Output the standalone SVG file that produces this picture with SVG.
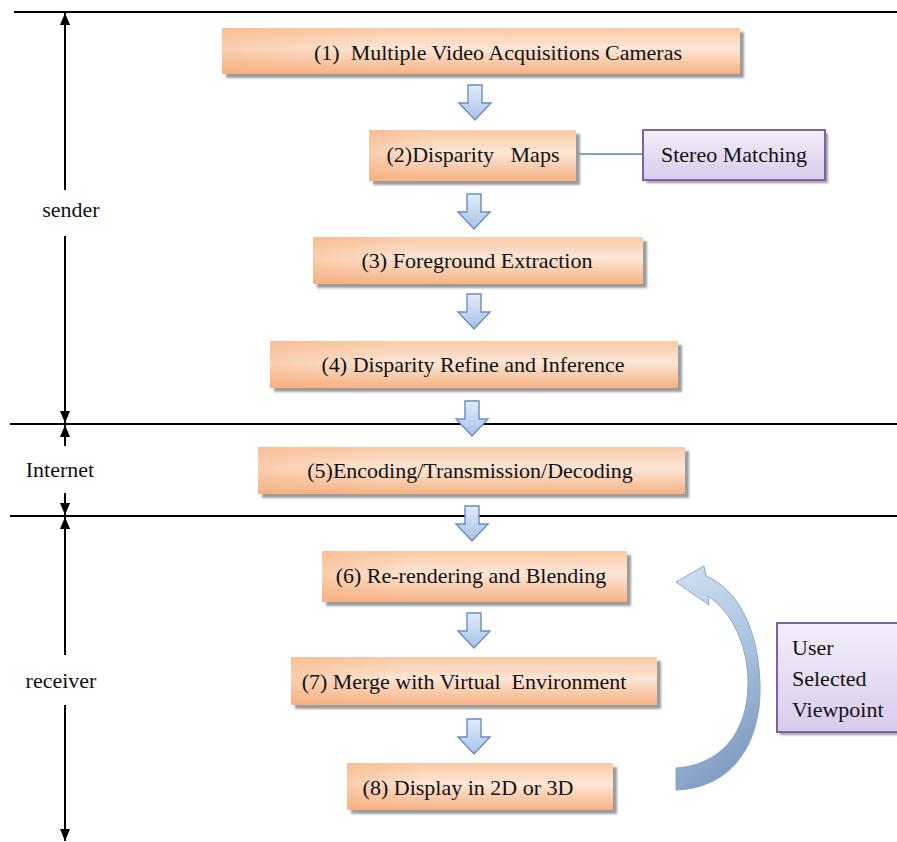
<svg xmlns="http://www.w3.org/2000/svg" width="897" height="842" viewBox="0 0 897 842">
  <defs>
    <linearGradient id="orange" x1="0" y1="0" x2="0" y2="1">
      <stop offset="0" stop-color="#f9caa6"/>
      <stop offset="0.45" stop-color="#fde6d6"/>
      <stop offset="1" stop-color="#f5b283"/>
    </linearGradient>
    <linearGradient id="orangeSide" x1="0" y1="0" x2="1" y2="0">
      <stop offset="0" stop-color="#f6b07e" stop-opacity="0.45"/>
      <stop offset="0.3" stop-color="#f6b07e" stop-opacity="0"/>
      <stop offset="1" stop-color="#f6b07e" stop-opacity="0"/>
    </linearGradient>
    <linearGradient id="purple" x1="0" y1="0" x2="0" y2="1">
      <stop offset="0" stop-color="#f3effa"/>
      <stop offset="1" stop-color="#d8cbec"/>
    </linearGradient>
    <linearGradient id="blueDown" x1="0" y1="0" x2="0" y2="1">
      <stop offset="0" stop-color="#e2ecf9"/>
      <stop offset="1" stop-color="#a6c1e8"/>
    </linearGradient>
    <linearGradient id="curve" x1="0" y1="0" x2="0.3" y2="1">
      <stop offset="0" stop-color="#d2e0f1"/>
      <stop offset="0.55" stop-color="#abc3df"/>
      <stop offset="1" stop-color="#809ec3"/>
    </linearGradient>
    <filter id="soft" x="-10%" y="-30%" width="120%" height="160%">
      <feGaussianBlur stdDeviation="1.2"/>
    </filter>
    <marker id="head" viewBox="0 0 12 10" refX="12" refY="5" markerWidth="12" markerHeight="10" markerUnits="userSpaceOnUse" orient="auto-start-reverse">
      <path d="M0,0 L12,5 L0,10 z" fill="#000"/>
    </marker>
    <path id="blockArrow" d="M-7,0 H7 V18 H16 L0,35 L-16,18 H-7 Z"/>
  </defs>
  <style>
    .box { fill: url(#orange); }
    .side { fill: url(#orangeSide); }
    .shadow { fill: #9c9c9c; filter: url(#soft); }
    .pbox { fill: url(#purple); stroke: #7d62a0; stroke-width: 2; }
    .lbl { font-family: "Liberation Serif", "Times New Roman", serif; font-size: 22px; fill: #111; }
    .mid { text-anchor: middle; }
    .rule { stroke: #000; stroke-width: 2; }
    .vax { stroke: #000; stroke-width: 2; fill: none; }
    .down { fill: url(#blueDown); stroke: #6a8cc4; stroke-width: 1.4; }
  </style>

  <!-- section boundaries -->
  <g id="rules">
    <line class="rule" x1="14" y1="12" x2="897" y2="12"/>
    <line class="rule" x1="10" y1="424" x2="897" y2="424"/>
    <line class="rule" x1="10" y1="516" x2="897" y2="516"/>
  </g>

  <!-- extent arrows and section names -->
  <g id="extents">
    <line class="vax" x1="65" y1="190" x2="65" y2="13" marker-end="url(#head)"/>
    <line class="vax" x1="65" y1="236" x2="65" y2="423" marker-end="url(#head)"/>
    <line class="vax" x1="65" y1="446" x2="65" y2="425" marker-end="url(#head)"/>
    <line class="vax" x1="65" y1="493" x2="65" y2="515" marker-end="url(#head)"/>
    <line class="vax" x1="65" y1="655" x2="65" y2="517" marker-end="url(#head)"/>
    <line class="vax" x1="65" y1="705" x2="65" y2="841" marker-end="url(#head)"/>
    <text class="lbl" x="71" y="217" text-anchor="middle">sender</text>
    <text class="lbl" x="60" y="477" text-anchor="middle">Internet</text>
    <text class="lbl" x="61" y="688" text-anchor="middle">receiver</text>
  </g>

  <!-- flow connectors -->
  <g id="connectors">
    <use href="#blockArrow" class="down" x="475" y="85"/>
    <use href="#blockArrow" class="down" x="474" y="194"/>
    <use href="#blockArrow" class="down" x="474" y="294"/>
    <use href="#blockArrow" class="down" x="472" y="401"/>
    <use href="#blockArrow" class="down" x="472" y="506"/>
    <use href="#blockArrow" class="down" x="474" y="613"/>
    <use href="#blockArrow" class="down" x="474" y="719"/>
    <line x1="577" y1="154" x2="643" y2="154" stroke="#4f81bd" stroke-width="1.6"/>
    <path d="M676,790 C735,788 762,740 760,683 C758,628 738,590 706,576 L704,566 L676,582 L709,605 L708,596 C732,612 748,645 748,683 C748,733 720,765 676,768 Z" fill="url(#curve)" stroke="#8ba6c8" stroke-width="1"/>
  </g>

  <g id="n1">
    <rect class="shadow" x="226" y="32" width="518" height="46"/>
    <rect class="box" x="222" y="28" width="518" height="46"/>
    <rect class="side" x="222" y="28" width="518" height="46"/>
    <text class="lbl mid" x="498" y="60" xml:space="preserve">(1)  Multiple Video Acquisitions Cameras</text>
  </g>
  <g id="n2">
    <rect class="shadow" x="373" y="134" width="207" height="51"/>
    <rect class="box" x="369" y="130" width="207" height="51"/>
    <rect class="side" x="369" y="130" width="207" height="51"/>
    <text class="lbl mid" x="473" y="162" xml:space="preserve">(2)Disparity   Maps</text>
  </g>
  <g id="stereo">
    <rect class="shadow" x="646" y="133" width="182" height="50"/>
    <rect class="pbox" x="643" y="130" width="182" height="50"/>
    <text class="lbl mid" x="734" y="162">Stereo Matching</text>
  </g>
  <g id="n3">
    <rect class="shadow" x="317" y="241" width="330" height="47"/>
    <rect class="box" x="313" y="237" width="330" height="47"/>
    <rect class="side" x="313" y="237" width="330" height="47"/>
    <text class="lbl mid" x="477" y="268">(3) Foreground Extraction</text>
  </g>
  <g id="n4">
    <rect class="shadow" x="274" y="345" width="408" height="47"/>
    <rect class="box" x="270" y="341" width="408" height="47"/>
    <rect class="side" x="270" y="341" width="408" height="47"/>
    <text class="lbl mid" x="473" y="372">(4) Disparity Refine and Inference</text>
  </g>
  <g id="n5">
    <rect class="shadow" x="262" y="451" width="427" height="47"/>
    <rect class="box" x="258" y="447" width="427" height="47"/>
    <rect class="side" x="258" y="447" width="427" height="47"/>
    <text class="lbl mid" x="470" y="478">(5)Encoding/Transmission/Decoding</text>
  </g>
  <g id="n6">
    <rect class="shadow" x="326" y="555" width="305" height="51"/>
    <rect class="box" x="322" y="551" width="305" height="51"/>
    <rect class="side" x="322" y="551" width="305" height="51"/>
    <text class="lbl mid" x="471" y="583">(6) Re-rendering and Blending</text>
  </g>
  <g id="n7">
    <rect class="shadow" x="295" y="661" width="366" height="48"/>
    <rect class="box" x="291" y="657" width="366" height="48"/>
    <rect class="side" x="291" y="657" width="366" height="48"/>
    <text class="lbl mid" x="464" y="689" xml:space="preserve">(7) Merge with Virtual  Environment</text>
  </g>
  <g id="n8">
    <rect class="shadow" x="351" y="767" width="266" height="47"/>
    <rect class="box" x="347" y="763" width="266" height="47"/>
    <rect class="side" x="347" y="763" width="266" height="47"/>
    <text class="lbl mid" x="468" y="795">(8) Display in 2D or 3D</text>
  </g>
  <g id="viewpoint">
    <rect class="shadow" x="780" y="626" width="120" height="109"/>
    <rect class="pbox" x="777" y="623" width="125" height="109"/>
    <text class="lbl" x="792" y="655">User</text>
    <text class="lbl" x="792" y="686">Selected</text>
    <text class="lbl" x="792" y="717">Viewpoint</text>
  </g>
</svg>
